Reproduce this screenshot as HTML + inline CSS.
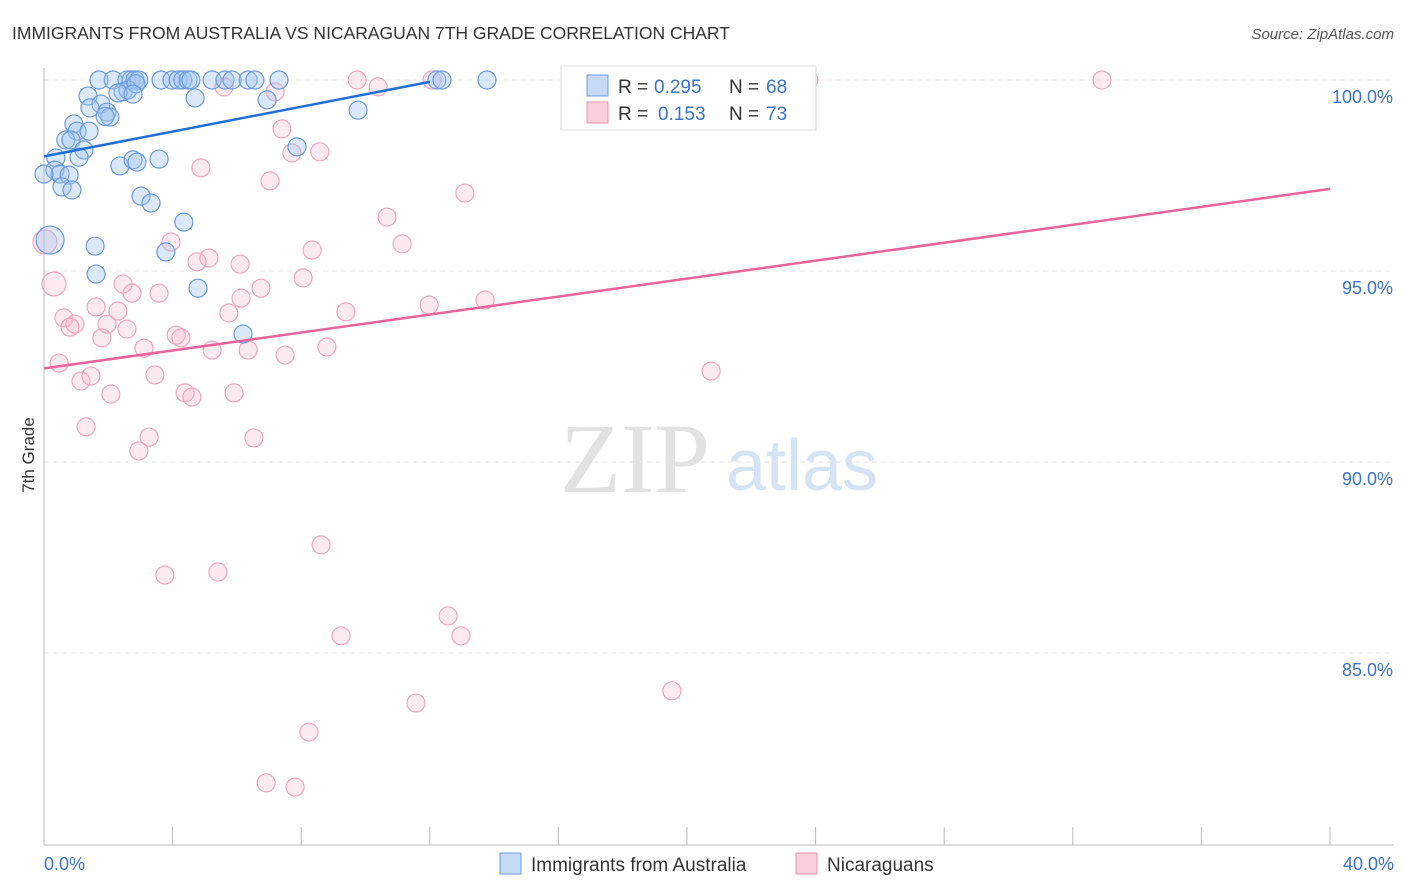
<!DOCTYPE html>
<html><head><meta charset="utf-8"><style>
body{margin:0;background:#fff;font-family:"Liberation Sans",sans-serif}
svg{display:block}
</style></head><body>
<svg id="chart" width="1406" height="892" viewBox="0 0 1406 892" xmlns="http://www.w3.org/2000/svg">
<text x="12" y="39" font-size="17.5" fill="#333">IMMIGRANTS FROM AUSTRALIA VS NICARAGUAN 7TH GRADE CORRELATION CHART</text>
<text x="1394" y="39" font-size="15" fill="#555" font-style="italic" text-anchor="end">Source: ZipAtlas.com</text>
<g>
<text x="635" y="492" font-size="100" fill="#e2e2e2" font-family="Liberation Serif,serif" text-anchor="middle">ZIP</text>
<text x="802" y="490" font-size="72" fill="#d5e4f5" text-anchor="middle">atlas</text>
</g>
<g id="grid"></g>
<g id="axes"></g>
<g id="pts"></g>
<g id="lines"></g>
<text x="34" y="455" font-size="17" fill="#333" text-anchor="middle" transform="rotate(-90 34 455)">7th Grade</text>
<g>
<rect x="561" y="66" width="255" height="64" fill="#fff" stroke="#ddd"/>
<rect x="587" y="75" width="21" height="21" fill="#c5daf5" stroke="#6a9be0"/>
<rect x="587" y="102" width="21" height="21" fill="#f9cfdc" stroke="#ec93b0"/>
<text x="618" y="93" font-size="19" fill="#333">R =</text>
<text x="654" y="93" font-size="19" fill="#3a73d0">0.295</text>
<text x="729" y="93" font-size="19" fill="#333">N =</text>
<text x="766" y="93" font-size="19" fill="#3a73d0">68</text>
<text x="618" y="120" font-size="19" fill="#333">R =</text>
<text x="658" y="120" font-size="19" fill="#3a73d0">0.153</text>
<text x="729" y="120" font-size="19" fill="#333">N =</text>
<text x="766" y="120" font-size="19" fill="#3a73d0">73</text>
</g>
<g>
<rect x="500" y="853" width="21" height="21" fill="#c5daf5" stroke="#6a9be0"/>
<text x="531" y="871" font-size="19" fill="#333">Immigrants from Australia</text>
<rect x="796" y="853" width="21" height="21" fill="#f9cfdc" stroke="#ec93b0"/>
<text x="827" y="871" font-size="19" fill="#333">Nicaraguans</text>
</g>
</svg>
<script>
const yTicks=[100,95,90,85];
const yTickLabels=["100.0%","95.0%","90.0%","85.0%"];
const xTickVals=[0,4,8,12,16,20,24,28,32,36,40];
const blueX=[1.71,2.15,2.58,2.71,2.83,2.95,3.64,3.98,4.17,4.32,4.48,4.57,5.23,5.63,5.85,6.35,6.56,7.31,12.22,12.38,13.78,1.37,1.77,1.43,1.96,2.05,2.46,2.61,2.30,2.86,2.77,4.70,6.94,9.77,0.93,1.03,1.40,0.68,0.84,1.90,0.37,0.34,1.24,1.09,0.50,0.78,0.56,0.87,0.0,2.36,2.77,2.89,3.58,3.02,3.33,4.35,1.59,3.79,1.62,4.79,6.19,7.87,0.19];
const blueY=[100,100,100,100,100,100,100,100,100,100,100,100,100,100,100,100,100,100,100,100,100,99.58,99.37,99.27,99.16,99.03,99.69,99.74,99.66,99.90,99.63,99.53,99.48,99.21,98.85,98.66,98.66,98.43,98.43,99.05,97.96,97.64,98.17,97.98,97.54,97.51,97.20,97.12,97.54,97.75,97.91,97.85,97.93,96.96,96.78,96.28,95.65,95.50,94.92,94.55,93.35,98.25,95.81];
const blueR=[9,9,9,9,9,9,9,9,9,9,9,9,9,9,9,9,9,9,9,9,9,9,9,9,9,9,9,9,9,9,9,9,9,9,9,9,9,9,9,9,9,9,9,9,9,9,9,9,9,9,9,9,9,9,9,9,9,9,9,9,9,9,14];
const pinkX=[0.03,0.31,0.47,0.62,0.81,0.96,1.15,1.46,1.31,1.62,1.80,1.96,2.08,2.30,2.46,2.58,2.74,2.95,3.11,3.27,3.45,3.58,3.76,3.95,4.11,4.26,4.39,4.60,4.76,4.88,5.13,5.23,5.41,5.60,5.75,5.91,6.10,6.13,6.35,6.53,6.75,7.03,7.19,7.40,7.50,7.71,7.81,8.06,8.24,8.34,8.58,8.62,8.80,9.24,9.39,9.74,10.39,10.67,11.14,11.57,11.98,12.57,12.97,13.09,13.72,16.92,19.53,20.75,21.03,23.79,32.91,12.07,6.91];
const pinkY=[95.76,94.66,92.59,93.77,93.53,93.61,92.12,92.25,90.92,94.06,93.25,93.61,91.78,93.95,94.66,93.48,94.42,90.29,92.98,90.65,92.28,94.42,87.04,95.76,93.32,93.25,91.81,91.70,95.24,97.70,95.34,92.93,87.12,99.82,93.90,91.81,95.18,94.29,92.93,90.63,94.55,97.36,99.69,98.72,92.80,98.09,81.49,94.82,82.93,95.55,98.12,87.83,93.01,85.45,93.93,100,99.82,96.41,95.71,83.69,94.11,85.97,85.45,97.04,94.24,100,84.01,92.38,100,100,100,100,81.60];
const blueTrend=[[0,98.0],[12.0,99.95]];
const pinkTrend=[[0,92.45],[40,97.15]];
const NS="http://www.w3.org/2000/svg";
const X=v=>44+v*32.15;
const Y=v=>80+(100-v)*38.2;
function mk(tag,attrs,parent){const e=document.createElementNS(NS,tag);for(const k in attrs)e.setAttribute(k,attrs[k]);parent.appendChild(e);return e;}
const grid=document.getElementById('grid'),axes=document.getElementById('axes'),pts=document.getElementById('pts'),lines=document.getElementById('lines');
yTicks.forEach((t,i)=>{
 const g=mk('line',{x1:44,x2:1394,y1:Y(t),y2:Y(t),stroke:'#e4e4e4','stroke-dasharray':'5,4'},grid);
 
 
 const l=mk('text',{x:1393,y:Y(t)+23,'font-size':18,fill:'#3a73d0','text-anchor':'end'},axes);
 l.textContent=yTickLabels[i];
 
 
});
const ax=mk('line',{x1:44,x2:44,y1:68,y2:845,stroke:'#bbb'},axes);


const bx=mk('line',{x1:44,x2:1394,y1:845,y2:845,stroke:'#bbb'},axes);


xTickVals.forEach(t=>{
 const tk=mk('line',{x1:X(t),x2:X(t),y1:827,y2:845,stroke:'#bbb'},axes);
 
 
});
[[0,"0.0%","start",44],[40,"40.0%","end",1394]].forEach(d=>{
 const l=mk('text',{x:d[3],y:870,'font-size':18,fill:'#3a73d0','text-anchor':d[2]},axes);
 l.textContent=d[1];
 
 
});
pinkX.forEach((x,i)=>{
 const c=mk('circle',{cx:X(x),cy:Y(pinkY[i]),r:(i===0||i===1)?12:9,fill:'rgba(246,180,200,0.28)',stroke:'#f0a6bf','stroke-width':1.2},pts);
 
 
});
blueX.forEach((x,i)=>{
 const c=mk('circle',{cx:X(x),cy:Y(blueY[i]),r:blueR[i],fill:'rgba(160,195,240,0.38)',stroke:'#6b9bdc','stroke-width':1.2},pts);
 
 
});
const bl=mk('line',{x1:X(blueTrend[0][0]),y1:Y(blueTrend[0][1]),x2:X(blueTrend[1][0]),y2:Y(blueTrend[1][1]),stroke:'#1f6fd6','stroke-width':2.5},lines);


const pl=mk('line',{x1:X(pinkTrend[0][0]),y1:Y(pinkTrend[0][1]),x2:X(pinkTrend[1][0]),y2:Y(pinkTrend[1][1]),stroke:'#e8649a','stroke-width':2.5},lines);


</script>
</body></html>
